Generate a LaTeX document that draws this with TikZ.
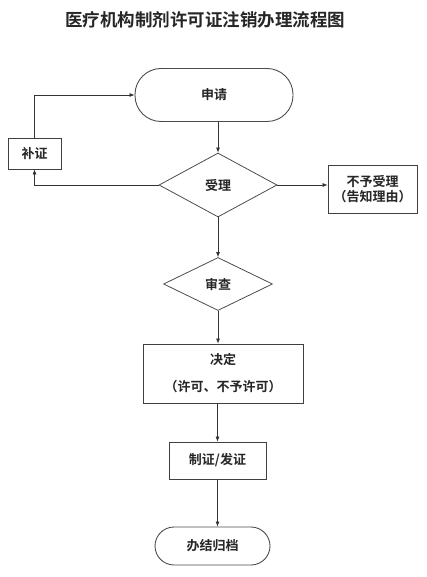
\documentclass[tikz,border=0pt]{standalone}
\usepackage{fontspec}
\usepackage{tikz}
\usetikzlibrary{shapes.geometric,arrows.meta}
\newfontfamily\cjk{Noto Sans CJK SC Bold}
\tikzset{
  every node/.style={font=\cjk\fontsize{13}{15}\selectfont, text=black!85},
  termbox/.style={draw=black!70, line width=0.9pt, minimum width=#1, rounded corners=18pt},
  stepbox/.style={draw=black!75, line width=0.8pt, rectangle, inner sep=0pt},
  choice/.style={draw=black!70, line width=0.8pt, diamond, inner sep=0pt},
  arr/.style={draw=black!80, line width=0.7pt, -{Latex[length=5pt,width=4pt]}}
}
\begin{document}
\begin{tikzpicture}[x=1pt,y=-1pt]
   \useasboundingbox (0,0) rectangle (427,577);
   \path (205,20) node[font=\cjk\fontsize{17.5}{20}\selectfont] (title) {医疗机构制剂许可证注销办理流程图};
   \path (214,95) node[termbox=158pt, minimum height=53pt, rounded corners=26pt] (apply) {申请};
   \path (218,185) node[choice, minimum width=118pt, minimum height=64pt] (accept) {受理};
   \path (34.5,153.5) node[stepbox, minimum width=53pt, minimum height=31pt] (supply) {补证};
   \path (372.5,189) node[stepbox, minimum width=89pt, minimum height=48pt, align=center] (reject) {不予受理\\（告知理由）};
   \path (218,284) node[choice, minimum width=109pt, minimum height=53pt] (review) {审查};
   \path (223,373.5) node[stepbox, minimum width=160pt, minimum height=59pt, align=center] (decide) {决定\\[12pt]（许可、不予许可）};
   \path (217.5,460.5) node[stepbox, minimum width=97pt, minimum height=37pt] (issue) {制证/发证};
   \path (212.5,546) node[termbox=115pt, minimum height=38pt, rounded corners=19pt] (archive) {办结归档};
   \draw[arr] (accept.north |- apply.south) -- (accept.north);
   \draw[arr] (accept.west) -| (supply.south);
   \draw[arr] (supply.north) |- (apply.west);
   \draw[arr] (accept.east) -- (accept.east -| reject.west);
   \draw[arr] (accept.south) -- (review.north);
   \draw[arr] (review.south) -- (review.south |- decide.north);
   \draw[arr] (issue.north |- decide.south) -- (issue.north);
   \draw[arr] (issue.south) -- (issue.south |- archive.north);
\end{tikzpicture}
\end{document}
